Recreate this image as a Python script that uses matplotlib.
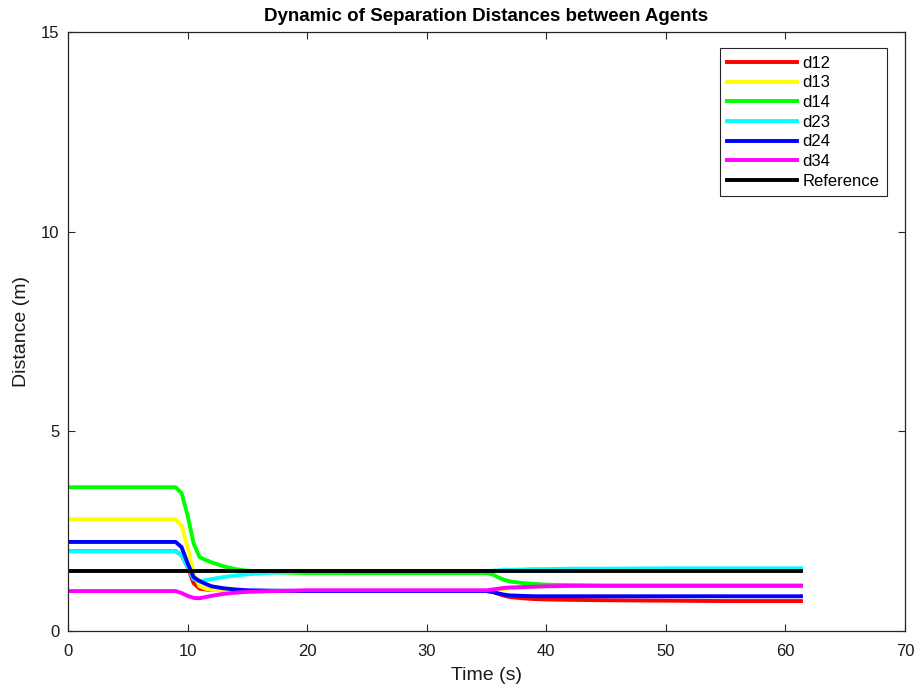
import matplotlib
matplotlib.use("Agg")
import matplotlib.pyplot as plt

plt.rcParams['font.family'] = ['Liberation Sans', 'DejaVu Sans']

time = [0, 9.0, 9.5, 10.0, 10.5, 11.0, 11.5, 12.0, 13.0, 14.0, 15.0, 17.0, 20.0,
        25.0, 30.0, 35.0, 35.5, 36.0, 36.5, 37.0, 38.0, 39.0, 40.0, 42.0, 45.0,
        50.0, 55.0, 61.3]

d12 = [2.0, 2.0, 1.9, 1.6, 1.2, 1.06, 1.04, 1.03, 1.02, 1.01, 1.0, 1.0, 1.0,
       1.0, 1.0, 1.0, 0.98, 0.93, 0.88, 0.85, 0.82, 0.80, 0.79, 0.78, 0.77,
       0.76, 0.75, 0.75]
d13 = [2.8, 2.8, 2.65, 2.1, 1.45, 1.12, 1.06, 1.03, 1.01, 1.0, 1.0, 1.0, 1.0,
       1.0, 1.0, 1.0, 1.01, 1.03, 1.05, 1.07, 1.09, 1.11, 1.12, 1.13, 1.13,
       1.13, 1.13, 1.13]
d14 = [3.6, 3.6, 3.45, 2.9, 2.2, 1.85, 1.78, 1.72, 1.62, 1.55, 1.51, 1.47, 1.45,
       1.45, 1.45, 1.45, 1.42, 1.34, 1.28, 1.24, 1.2, 1.18, 1.16, 1.15, 1.14,
       1.14, 1.14, 1.14]
d23 = [2.0, 2.0, 1.9, 1.6, 1.3, 1.25, 1.27, 1.3, 1.35, 1.39, 1.42, 1.46, 1.49,
       1.5, 1.5, 1.5, 1.51, 1.52, 1.53, 1.53, 1.54, 1.55, 1.55, 1.56, 1.56,
       1.57, 1.57, 1.57]
d24 = [2.23, 2.23, 2.1, 1.7, 1.35, 1.25, 1.18, 1.12, 1.07, 1.04, 1.02, 1.01, 1.0,
       1.0, 1.0, 1.0, 0.98, 0.94, 0.91, 0.89, 0.88, 0.87, 0.87, 0.87, 0.87,
       0.87, 0.87, 0.87]
d34 = [1.0, 1.0, 0.95, 0.88, 0.83, 0.82, 0.85, 0.88, 0.93, 0.96, 0.98, 1.0, 1.02,
       1.02, 1.02, 1.02, 1.04, 1.06, 1.08, 1.09, 1.1, 1.11, 1.12, 1.13, 1.13,
       1.13, 1.13, 1.13]
reference = [1.5] * len(time)

series = [("d12", d12, "#ff0000"), ("d13", d13, "#ffff00"), ("d14", d14, "#00ff00"),
          ("d23", d23, "#00ffff"), ("d24", d24, "#0000ff"), ("d34", d34, "#ff00ff"),
          ("Reference", reference, "#000000")]

fig = plt.figure(figsize=(9.14, 6.88), dpi=100)
ax = fig.add_axes([68/914, 1 - 631/688, (905-68)/914, (631-32)/688])

for name, vals, col in series:
    ax.plot(time, vals, color=col, lw=2.8, label=name)

ax.set_xlim(0, 70)
ax.set_ylim(0, 15)
ax.set_xticks(range(0, 71, 10))
ax.set_yticks([0, 5, 10, 15])
ax.tick_params(direction='in', top=True, right=True, labelsize=12, length=5,
               width=0.8, colors='#262626', labelcolor='#1a1a1a', pad=6)
ax.tick_params(axis='x', pad=9)
for s in ax.spines.values():
    s.set_linewidth(0.9)
    s.set_color('#262626')
ax.set_xlabel("Time (s)", fontsize=14, labelpad=6, color='#1a1a1a')
ax.set_ylabel("Distance (m)", fontsize=14, labelpad=8, color='#1a1a1a')
ax.set_title("Dynamic of Separation Distances between Agents", fontsize=13.5,
             fontweight='bold', pad=8)

leg = ax.legend(loc='upper right', bbox_to_anchor=(0.978, 0.973), fontsize=12,
                fancybox=False, edgecolor='#262626', framealpha=1,
                handlelength=4.2, handletextpad=0.3, labelspacing=0.28,
                borderpad=0.45, borderaxespad=0)
leg.get_frame().set_linewidth(0.8)

fig.savefig("out.png", dpi=100)
